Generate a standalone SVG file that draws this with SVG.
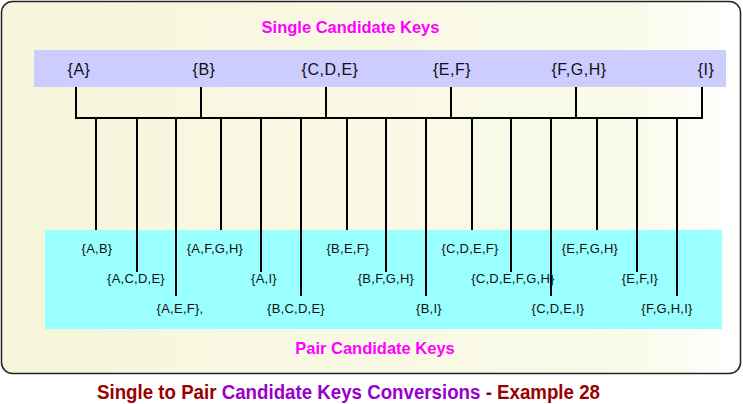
<svg xmlns="http://www.w3.org/2000/svg" width="743" height="404" viewBox="0 0 743 404">
<defs>
<linearGradient id="bg" x1="0" y1="0" x2="1" y2="0">
<stop offset="0" stop-color="#f6f6dc"/>
<stop offset="0.85" stop-color="#fafaea"/>
<stop offset="1" stop-color="#ffffff"/>
</linearGradient>
</defs>
<style>
.title{font-family:"Liberation Sans",Arial,sans-serif;font-weight:bold;font-size:16.5px;fill:#ff00ff;text-anchor:middle}
.single{font-family:"Liberation Sans",Arial,sans-serif;font-size:16px;letter-spacing:0.5px;fill:#111;text-anchor:middle}
.pair{font-family:"Liberation Sans",Arial,sans-serif;font-size:13px;letter-spacing:0.25px;fill:#111;text-anchor:middle}
.ln{stroke:#000;stroke-width:2;fill:none}
</style>
<rect x="1.5" y="1.5" width="739" height="372" rx="11" fill="url(#bg)" stroke="#222" stroke-width="1.5"/>
<rect x="34" y="50" width="692" height="37" fill="#ccccff"/>
<rect x="45" y="230" width="677" height="99" fill="#99ffff"/>
<text class="title" x="350.5" y="33">Single Candidate Keys</text>
<text class="title" x="375" y="353.5">Pair Candidate Keys</text>
<g id="connectors" class="ln">
<path d="M76 87V118M201 87V118M326 87V118M451 87V118M576 87V118M702 87V118"/>
<path d="M75 118H703"/>
<path d="M96 118V230M137 118V272M176 118V296M221 118V230M261 118V272M301 118V296M347 118V230M386 118V272M426 118V296M472 118V230M511 118V272M551 118V296M597 118V230M637 118V272M677 118V296"/>
</g>
<g id="single-keys" class="single">
<g id="s-A"><text x="79" y="75">{A}</text></g>
<g id="s-B"><text x="204" y="75">{B}</text></g>
<g id="s-CDE"><text x="330" y="75">{C,D,E}</text></g>
<g id="s-EF"><text x="452" y="75">{E,F}</text></g>
<g id="s-FGH"><text x="579" y="75">{F,G,H}</text></g>
<g id="s-I"><text x="706" y="75">{I}</text></g>
</g>
<g id="pair-keys" class="pair">
<g id="p-AB"><text x="97" y="253">{A,B}</text></g>
<g id="p-ACDE"><text x="136" y="283">{A,C,D,E}</text></g>
<g id="p-AEF"><text x="180" y="313">{A,E,F},</text></g>
<g id="p-AFGH"><text x="215" y="253">{A,F,G,H}</text></g>
<g id="p-AI"><text x="264" y="283">{A,I}</text></g>
<g id="p-BCDE"><text x="296" y="313">{B,C,D,E}</text></g>
<g id="p-BEF"><text x="348" y="253">{B,E,F}</text></g>
<g id="p-BFGH"><text x="386" y="283">{B,F,G,H}</text></g>
<g id="p-BI"><text x="429" y="313">{B,I}</text></g>
<g id="p-CDEF"><text x="470" y="253">{C,D,E,F}</text></g>
<g id="p-CDEFGH"><text x="513" y="283">{C,D,E,F,G,H}</text></g>
<g id="p-CDEI"><text x="558" y="313">{C,D,E,I}</text></g>
<g id="p-EFGH"><text x="590" y="253">{E,F,G,H}</text></g>
<g id="p-EFI"><text x="640" y="283">{E,F,I}</text></g>
<g id="p-FGHI"><text x="667" y="313">{F,G,H,I}</text></g>
</g>
<text transform="translate(97,399) scale(0.935,1)" style="font-family:'Liberation Sans',Arial,sans-serif;font-weight:bold;font-size:20px"><tspan fill="#990000">Single to Pair </tspan><tspan fill="#9900cc">Candidate Keys Conversions</tspan><tspan fill="#990000"> - Example 28</tspan></text>
</svg>
